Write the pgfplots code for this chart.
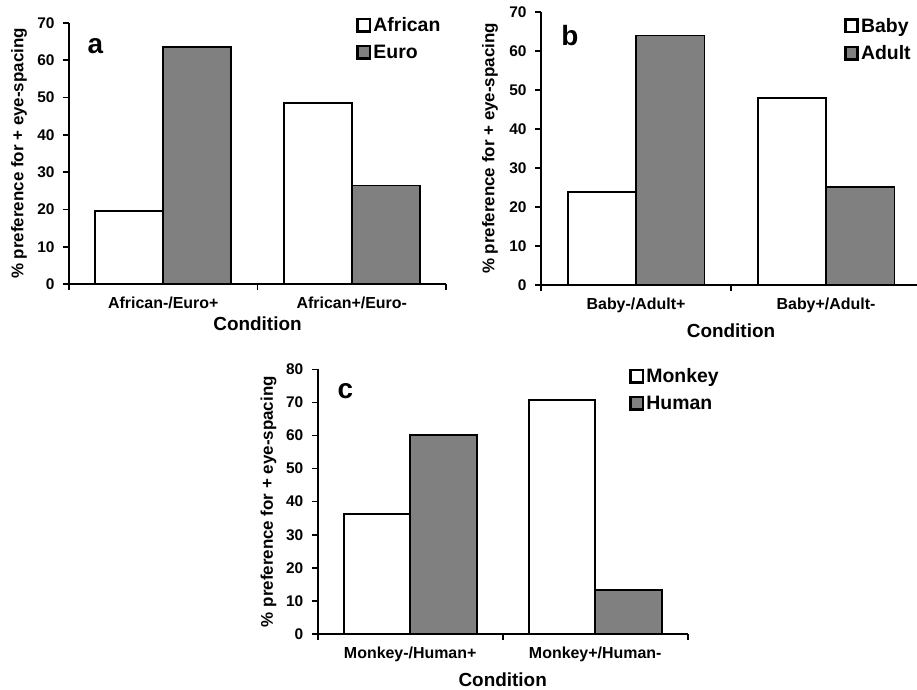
\documentclass[border=0pt]{standalone}
\usepackage{fontspec}
\setmainfont{Liberation Sans}
\usepackage{pgfplots}
\pgfplotsset{compat=1.18}
\definecolor{bargrey}{HTML}{808080}
\tikzset{panelletter/.style={font=\bfseries\fontsize{28}{28}\selectfont, anchor=base}}
\pgfplotsset{
  panel/.style={
    scale only axis,
    axis lines*=left,
    axis line style={line width=1.6bp, black},
    ymin=0,
    xmin=-0.5, xmax=1.5,
    xtick={0,1},
    major x tick style={draw=none},
    minor xtick={-0.5,0.5,1.5},
    tick align=outside,
    major tick length=6bp,
    minor tick length=6bp,
    every tick/.append style={line width=1.6bp, black},
    tick label style={font=\bfseries\fontsize{16}{16}\selectfont},
    yticklabel style={font=\bfseries\fontsize{15.5}{15.5}\selectfont},
    /pgf/number format/assume math mode=true,
    yticklabel style={anchor=east, xshift=-5bp},
    xticklabel style={anchor=base, yshift=-19bp},
    ylabel={\% preference for + eye-spacing},
    xlabel={Condition},
    ylabel style={font=\bfseries\fontsize{17}{17}\selectfont, anchor=center},
    xlabel style={font=\bfseries\fontsize{19}{19}\selectfont, anchor=base},
    ybar=0pt, bar width=0.36,
    legend image code/.code={\draw[#1, line width=2.6bp] (1.3bp,-6.2bp) rectangle (13.7bp,6.2bp);},
    legend style={draw=none, fill=none, font=\bfseries\fontsize{19.5}{19.5}\selectfont, anchor=north west, inner sep=0pt, row sep=8bp},
    legend cell align=left,
    clip=false,
  },
  whitebar/.style={draw=black, line width=1.8bp, fill=white},
  greybar/.style={draw=black, line width=1.8bp, fill=bargrey},
}
\begin{document}
\begin{tikzpicture}
\useasboundingbox (0bp,0bp) rectangle (917bp,690bp);
\coordinate (PA) at (69bp,406bp);
\coordinate (PB) at (541bp,405bp);
\coordinate (PC) at (317.7bp,56bp);

% ---------- panel a ----------
\begin{axis}[panel,
  at={(PA)}, anchor=south west, width=377bp, height=261bp,
  ymax=70, ytick={0,10,...,70},
  xticklabels={African-/Euro+, African+/Euro-},
  ylabel style={at={(axis description cs:-0.1326,0.5)}},
  xlabel style={at={(axis description cs:0.5,-0.179)}},
  legend style={at={(rel axis cs:0.762,1.03)}},
]
\addplot[whitebar] coordinates {(0,19.6) (1,48.5)};
\addplot[greybar] coordinates {(0,63.6) (1,26.4)};
\legend{African, Euro}
\node[panelletter] at (rel axis cs:0.07,0.885) {a};
\end{axis}

% ---------- panel b ----------
\begin{axis}[panel,
  at={(PB)}, anchor=south west, width=380bp, height=273bp,
  ymax=70, ytick={0,10,...,70},
  xticklabels={Baby-/Adult+, Baby+/Adult-},
  ylabel style={at={(axis description cs:-0.134,0.5)}},
  xlabel style={at={(axis description cs:0.5,-0.194)}},
  legend style={at={(rel axis cs:0.797,0.986)}},
]
\addplot[whitebar] coordinates {(0,23.9) (1,48.0)};
\addplot[greybar] coordinates {(0,64.0) (1,25.2)};
\legend{Baby, Adult}
\node[panelletter] at (rel axis cs:0.076,0.879) {b};
\end{axis}

% ---------- panel c ----------
\begin{axis}[panel,
  at={(PC)}, anchor=south west, width=370bp, height=264.7bp,
  ymax=80, ytick={0,10,...,80},
  xticklabels={Monkey-/Human+, Monkey+/Human-},
  ylabel style={at={(axis description cs:-0.133,0.5)}},
  xlabel style={at={(axis description cs:0.5,-0.2)}},
  legend style={at={(rel axis cs:0.842,1.012)}},
]
\addplot[whitebar] coordinates {(0,36.2) (1,70.7)};
\addplot[greybar] coordinates {(0,60.1) (1,13.3)};
\legend{Monkey, Human}
\node[panelletter] at (rel axis cs:0.075,0.89) {c};
\end{axis}
\end{tikzpicture}
\end{document}
